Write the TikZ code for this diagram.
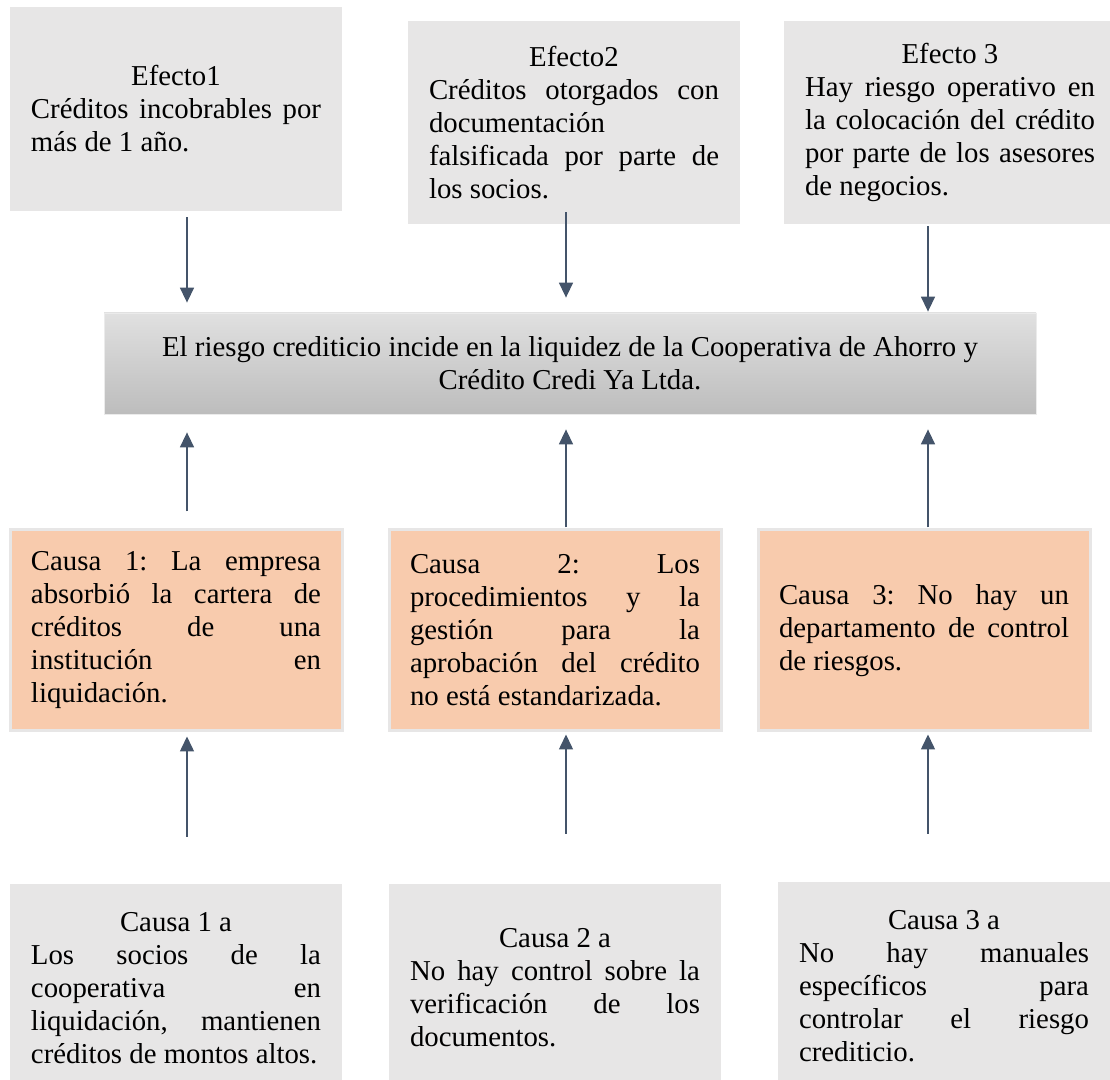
\documentclass[tikz,border=0pt]{standalone}
\usepackage{fontspec}
\setmainfont{Liberation Serif}
\usepackage{xcolor}
\usepackage{tikz}
\usetikzlibrary{arrows.meta}

\definecolor{boxgray}{HTML}{E7E6E6}
\definecolor{causeorange}{HTML}{F8CBAD}
\definecolor{arrowblue}{HTML}{44546A}

\newcommand{\boxfont}{\fontsize{14.4pt}{16.5pt}\selectfont\frenchspacing\hyphenpenalty=10000 \tolerance=10000 }
\newcommand{\boxtitle}[1]{\hfil#1\hfil\null\linebreak}

\tikzset{
	textbox/.style={rectangle, inner sep=0pt, text width=145pt, align=justify, minimum width=166pt, font=\boxfont},
	effectbox/.style={textbox, fill=boxgray, minimum height=102pt},
	causebox/.style={textbox, fill=causeorange, draw=boxgray, line width=1.5pt, minimum height=100.5pt},
	subbox/.style={textbox, fill=boxgray, minimum height=104pt},
	midbox/.style={rectangle, inner sep=0pt, minimum width=466pt, minimum height=50.5pt, top color=black!12, bottom color=black!26, draw=black!8, align=center, font=\boxfont},
	arr/.style={draw=arrowblue, line width=0.75pt, -{Triangle[width=7pt,length=7.5pt]}},
}

\begin{document}
\begin{tikzpicture}[x=0.5pt, y=-0.5pt]
	
	\useasboundingbox (0,0) rectangle (1110,1080);
	
	\node[effectbox] (e1) at (176,109) {\boxtitle{Efecto1}Créditos incobrables por\linebreak más de 1 año.};
	\node[effectbox, minimum height=101.5pt] (e2) at (574,122.5) {\boxtitle{Efecto2}Créditos otorgados con\linebreak documentación\linebreak falsificada por parte de\linebreak los socios.};
	\node[effectbox, minimum height=101.5pt] (e3) at (950,122.5) {\boxtitle{Efecto 3}Hay riesgo operativo en\linebreak la colocación del crédito\linebreak por parte de los asesores\linebreak de negocios.};
	
	\node[midbox] (mid) at (570,363.5) {El riesgo crediticio incide en la liquidez de la Cooperativa de Ahorro y\\Crédito Credi Ya Ltda.};
	
	\node[causebox] (c1) at (176,630.5) {Causa 1: La empresa\linebreak absorbió la cartera de\linebreak créditos de una\linebreak institución en\linebreak liquidación.};
	\node[causebox] (c2) at (555,630.5) {Causa 2: Los\linebreak procedimientos y la\linebreak gestión para la\linebreak aprobación del crédito\linebreak no está estandarizada.};
	\node[causebox] (c3) at (924,630.5) {Causa 3: No hay un\linebreak departamento de control\linebreak de riesgos.};
	
	\node[subbox] (s1) at (176,988) {\boxtitle{Causa 1 a}Los socios de la\linebreak cooperativa en\linebreak liquidación, mantienen\linebreak créditos de montos altos.};
	\node[subbox] (s2) at (555,988) {\boxtitle{Causa 2 a}No hay control sobre la\linebreak verificación de los\linebreak documentos.};
	\node[subbox] (s3) at (944,986) {\boxtitle{Causa 3 a}No hay manuales\linebreak específicos para\linebreak controlar el riesgo\linebreak crediticio.};
	
	\coordinate (col1) at (187,0);
	\coordinate (col2) at (566,0);
	\coordinate (col3) at (928,0);
	
	\draw[arr, shorten <=3pt, shorten >=5pt] (e1.south -| col1) -- (mid.north -| col1);
	\draw[arr, shorten <=-6pt, shorten >=7.5pt] (e2.south -| col2) -- (mid.north -| col2);
	\draw[arr, shorten <=1pt, shorten >=0.5pt] (e3.south -| col3) -- (mid.north -| col3);
	
	\draw[arr, shorten <=8.6pt, shorten >=9pt] (c1.north -| col1) -- (mid.south -| col1);
	\draw[arr, shorten <=0.5pt, shorten >=7.5pt] (c2.north -| col2) -- (mid.south -| col2);
	\draw[arr, shorten <=0.5pt, shorten >=7.5pt] (c3.north -| col3) -- (mid.south -| col3);
	
	\draw[arr, shorten <=23.5pt, shorten >=2pt] (s1.north -| col1) -- (c1.south -| col1);
	\draw[arr, shorten <=25pt, shorten >=1pt] (s2.north -| col2) -- (c2.south -| col2);
	\draw[arr, shorten <=24pt, shorten >=1pt] (s3.north -| col3) -- (c3.south -| col3);
	
\end{tikzpicture}
\end{document}
